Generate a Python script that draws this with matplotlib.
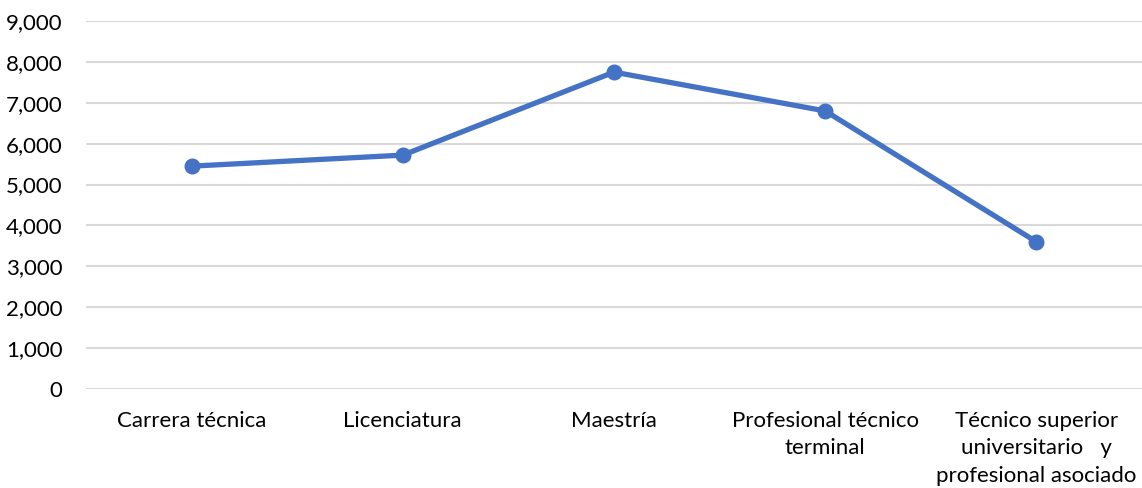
import matplotlib.pyplot as plt
from matplotlib.ticker import FuncFormatter, MultipleLocator

categories = ['Carrera técnica', 'Licenciatura', 'Maestría',
              'Profesional técnico\nterminal',
              'Técnico superior\nuniversitario   y\nprofesional asociado']
values = [5450, 5720, 7750, 6800, 3600]

plt.rcParams['font.family'] = ['Lato', 'DejaVu Sans']

fig = plt.figure(figsize=(11.42, 4.88), dpi=100)
ax = fig.add_axes([86 / 1142, 1 - 389 / 488, 1 - 86 / 1142, 368 / 488])

x = range(len(categories))
ax.plot(x, values, color='#4472C4', lw=3.8, marker='o', ms=10.5,
        solid_capstyle='round', zorder=3)

ax.set_xlim(-0.5, len(categories) - 0.5)
ax.set_ylim(0, 9000)
ax.yaxis.set_major_locator(MultipleLocator(1000))
ax.yaxis.set_major_formatter(FuncFormatter(lambda v, p: f'{int(v):,}'))
ax.grid(axis='y', color='#D9D9D9', lw=1.5)
ax.set_axisbelow(True)
for s in ax.spines.values():
    s.set_visible(False)
ax.tick_params(length=0, labelsize=16, colors='black')
ax.tick_params(axis='y', pad=17)
ax.tick_params(axis='x', pad=16)
ax.set_xticks(list(x))
ax.set_xticklabels(categories, linespacing=1.45)

fig.savefig('out.png', dpi=100)
